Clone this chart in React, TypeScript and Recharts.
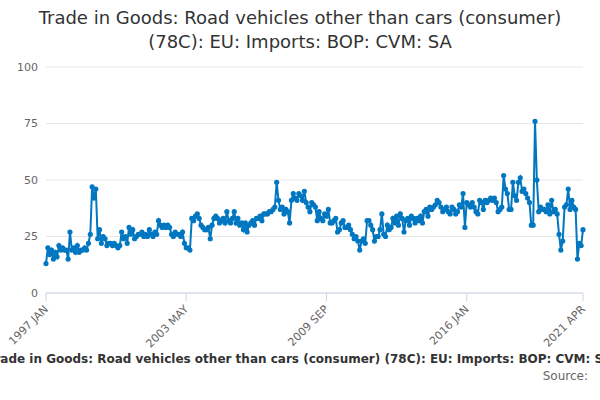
import React from "react";
import { LineChart, Line, XAxis, YAxis, CartesianGrid } from "recharts";

const years = [1997,1998,1999,2000,2001,2002,2003,2004,2005,2006,2007,2008,2009,2010,2011,2012,2013,2014,2015,2016,2017,2018,2019,2020,2021];
const values: number[][] = [
  [13,20,17,19,15,18,16,21,19,20,19,19],
  [15,27,19,20,18,21,18,19,19,20,19,22],
  [26,47,42,46,24,28,22,25,24,21,22,22],
  [21,22,21,20,21,27,24,25,22,29,26,28],
  [24,25,26,26,27,25,26,25,28,26,25,27],
  [26,32,30,29,30,29,30,29,26,25,27,26],
  [26,25,27,22,20,20,19,33,32,34,35,33],
  [30,29,28,28,29,24,30,33,34,33,31,32],
  [33,31,36,32,31,33,36,31,33,30,31,28],
  [31,27,30,31,32,30,33,33,34,32,35,35],
  [35,36,36,37,38,49,41,37,38,35,37,36],
  [31,41,44,42,41,44,43,41,45,40,38,36],
  [40,39,38,32,36,33,32,35,34,37,31,31],
  [32,33,27,28,31,32,29,29,30,28,26,24],
  [25,23,19,23,24,22,32,32,30,28,23,25],
  [25,28,35,26,25,30,28,29,33,31,34,30],
  [35,33,27,32,33,30,34,33,31,33,32,34],
  [31,36,37,34,38,37,38,39,41,40,38,36],
  [37,38,36,35,38,37,35,36,39,38,44,29],
  [40,39,38,40,38,36,35,41,40,37,41,40],
  [41,42,41,42,40,36,37,38,52,46,44,37],
  [37,49,43,41,49,51,45,46,44,42,40,30],
  [30,76,50,36,38,37,37,36,39,35,41,36],
  [37,35,26,19,23,38,39,46,37,41,38,37],
  [15,22,21,28],
];
const monthNames = ["JAN","FEB","MAR","APR","MAY","JUN","JUL","AUG","SEP","OCT","NOV","DEC"];
const xTicks = [0, 76, 152, 228, 291];
const yTicks = [0, 25, 50, 75, 100];

const data = values.flatMap((row, yi) =>
  row.map((v, mi) => ({ i: yi * 12 + mi, label: `${years[yi]} ${monthNames[mi]}`, value: v }))
);

const RotTick = (props: any) => {
  const { x, y, payload } = props;
  const lab = data[payload.value]?.label ?? "";
  return (
    <text x={x} y={y + 4} transform={`rotate(-45 ${x} ${y + 4})`} textAnchor="end" fontSize={11} fill="#666" dy={4}>
      {lab}
    </text>
  );
};

export default function App() {
  return (
    <div style={{ position: "absolute", left: 0, top: 0, width: 600, height: 400, background: "#fff", fontFamily: "'DejaVu Sans', sans-serif", overflow: "hidden" }}>
      <div style={{ position: "absolute", top: 6, left: 0, width: 600, textAlign: "center", fontSize: 18, lineHeight: "24px", color: "#333" }}>
        Trade in Goods: Road vehicles other than cars (consumer)<br />(78C): EU: Imports: BOP: CVM: SA
      </div>
      <LineChart width={600} height={400} data={data} margin={{ top: 67, right: 17, bottom: 77, left: 0 }}>
        <CartesianGrid horizontal vertical={false} stroke="#e6e6e6" />
        <XAxis dataKey="i" type="number" height={30} domain={[0, 291]} ticks={xTicks} tick={<RotTick />} interval={0} stroke="#ccd6eb" tickSize={8} />
        <YAxis width={46} domain={[0, 100]} ticks={yTicks} axisLine={false} tickLine={false} tick={{ fontSize: 11, fill: "#666" }} />
        <Line dataKey="value" stroke="#0077c0" strokeWidth={2} dot={{ r: 1.6, fill: "#0077c0", stroke: "#0077c0" }} isAnimationActive={false} />
      </LineChart>
      <div style={{ position: "absolute", top: 352, left: -100, width: 800, textAlign: "center", fontSize: 12, fontWeight: "bold", color: "#333", whiteSpace: "nowrap" }}>
        Trade in Goods: Road vehicles other than cars (consumer) (78C): EU: Imports: BOP: CVM: SA
      </div>
      <div style={{ position: "absolute", top: 369, right: 12, fontSize: 12, color: "#666" }}>Source:</div>
    </div>
  );
}
